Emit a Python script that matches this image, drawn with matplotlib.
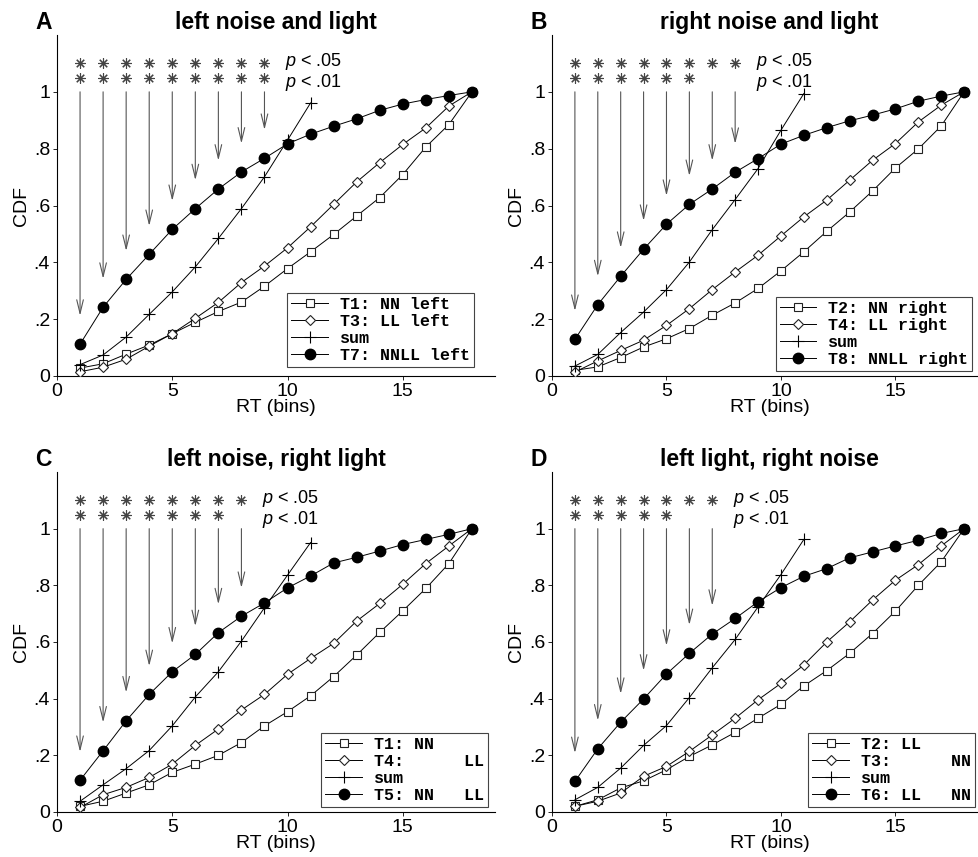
import matplotlib
matplotlib.use("Agg")
import matplotlib.pyplot as plt
import numpy as np

plt.rcParams['font.family'] = ['Liberation Sans', 'DejaVu Sans']
plt.rcParams['mathtext.fontset'] = 'custom'
plt.rcParams['mathtext.it'] = 'Liberation Sans:italic'
plt.rcParams['mathtext.rm'] = 'Liberation Sans'

bins = np.arange(1, 19)
sum_bins = np.arange(1, 12)

# Panel A: left noise and light
A_t1 = [0.028, 0.043, 0.077, 0.109, 0.149, 0.189, 0.227, 0.26, 0.316, 0.378, 0.437, 0.498, 0.563, 0.628, 0.709, 0.806, 0.885, 1.0]
A_t3 = [0.015, 0.031, 0.059, 0.105, 0.149, 0.203, 0.259, 0.329, 0.387, 0.451, 0.525, 0.604, 0.683, 0.751, 0.815, 0.873, 0.95, 1.0]
A_sum = [0.040, 0.074, 0.137, 0.217, 0.296, 0.384, 0.484, 0.589, 0.701, 0.83, 0.961]
A_comb = [0.112, 0.242, 0.340, 0.428, 0.516, 0.589, 0.658, 0.718, 0.766, 0.817, 0.851, 0.879, 0.905, 0.935, 0.957, 0.973, 0.987, 1.0]

# Panel B: right noise and light
B_t2 = [0.02, 0.032, 0.065, 0.102, 0.131, 0.167, 0.214, 0.257, 0.308, 0.37, 0.437, 0.509, 0.577, 0.651, 0.732, 0.799, 0.88, 1.0]
B_t4 = [0.014, 0.053, 0.09, 0.126, 0.178, 0.237, 0.304, 0.366, 0.425, 0.493, 0.56, 0.619, 0.689, 0.759, 0.818, 0.894, 0.953, 1.0]
B_sum = [0.035, 0.076, 0.153, 0.225, 0.304, 0.401, 0.515, 0.621, 0.73, 0.865, 0.994]
B_comb = [0.129, 0.251, 0.351, 0.446, 0.534, 0.604, 0.658, 0.717, 0.765, 0.816, 0.847, 0.874, 0.898, 0.918, 0.940, 0.967, 0.985, 1.0]

# Panel C: left noise, right light
C_t1 = [0.02, 0.038, 0.067, 0.096, 0.14, 0.169, 0.2, 0.245, 0.304, 0.354, 0.41, 0.478, 0.554, 0.634, 0.71, 0.789, 0.877, 1.0]
C_t4 = [0.016, 0.061, 0.087, 0.122, 0.169, 0.235, 0.293, 0.36, 0.415, 0.486, 0.542, 0.595, 0.674, 0.736, 0.804, 0.877, 0.939, 1.0]
C_sum = [0.038, 0.096, 0.153, 0.217, 0.304, 0.406, 0.495, 0.603, 0.721, 0.836, 0.951]
C_comb = [0.112, 0.216, 0.322, 0.415, 0.495, 0.556, 0.633, 0.691, 0.738, 0.791, 0.833, 0.879, 0.899, 0.921, 0.944, 0.962, 0.98, 1.0]

# Panel D: left light, right noise
D_t2 = [0.02, 0.043, 0.085, 0.11, 0.149, 0.196, 0.237, 0.281, 0.331, 0.38, 0.445, 0.499, 0.56, 0.63, 0.709, 0.8, 0.883, 1.0]
D_t3 = [0.02, 0.038, 0.067, 0.126, 0.161, 0.214, 0.272, 0.331, 0.396, 0.454, 0.519, 0.6, 0.671, 0.748, 0.818, 0.873, 0.939, 1.0]
D_sum = [0.043, 0.087, 0.155, 0.235, 0.305, 0.404, 0.509, 0.609, 0.724, 0.838, 0.962]
D_comb = [0.108, 0.223, 0.317, 0.399, 0.487, 0.56, 0.628, 0.683, 0.742, 0.792, 0.832, 0.859, 0.897, 0.918, 0.939, 0.959, 0.983, 1.0]

titles = ['left noise and light', 'right noise and light', 'left noise, right light', 'left light, right noise']
letters = ['A', 'B', 'C', 'D']
labels = [
    ['T1: NN left', 'T3: LL left', 'sum', 'T7: NNLL left'],
    ['T2: NN right', 'T4: LL right', 'sum', 'T8: NNLL right'],
    ['T1: NN', 'T4:      LL', 'sum', 'T5: NN   LL'],
    ['T2: LL', 'T3:      NN', 'sum', 'T6: LL   NN'],
]
# number of significant bins (p<.05, p<.01)
n_sig05 = [9, 8, 8, 7]
n_sig01 = [9, 6, 7, 5]

data = [(A_t1, A_t3, A_sum, A_comb), (B_t2, B_t4, B_sum, B_comb),
        (C_t1, C_t4, C_sum, C_comb), (D_t2, D_t3, D_sum, D_comb)]

W, H = 979, 857
fig = plt.figure(figsize=(W / 100, H / 100), dpi=100)

# axes rects in pixels: left, bottom(from top), width, height
rects = [(57, 376, 438, 341), (552, 376, 435, 341), (57, 812, 438, 340), (552, 812, 435, 340)]
leg_anchor = [(0.952, 0.026), (0.966, 0.015), (0.984, 0.015), (0.972, 0.015)]

for i in range(4):
    l, b, w, h = rects[i]
    ax = fig.add_axes([l / W, 1 - b / H, w / W, h / H])
    s1, s2, ssum, comb = data[i]
    lc = 'black'
    ax.plot(bins, s1, '-', color=lc, lw=0.7, marker='s', ms=5.5, mfc='white', mec='#222', mew=0.8, label=labels[i][0], zorder=3)
    ax.plot(bins, s2, '-', color=lc, lw=0.7, marker='D', ms=5.5, mfc='white', mec='#222', mew=0.8, label=labels[i][1], zorder=3)
    ax.plot(sum_bins, ssum, '-', color=lc, lw=0.7, marker='+', ms=9, mec='black', mew=0.8, label=labels[i][2], zorder=3)
    ax.plot(bins, comb, '-', color=lc, lw=0.7, marker='o', ms=7.5, mfc='black', mec='black', label=labels[i][3], zorder=4)

    # significance asterisks
    x05 = bins[:n_sig05[i]]
    x01 = bins[:n_sig01[i]]
    ax.plot(x05, np.full(len(x05), 1.10), linestyle='none', marker=(8, 2, 0), ms=7.5, mec='#444', mew=0.8, clip_on=False)
    ax.plot(x01, np.full(len(x01), 1.05), linestyle='none', marker=(8, 2, 0), ms=7.5, mec='#444', mew=0.8, clip_on=False)
    tx = n_sig05[i] + 0.9
    ax.text(tx, 1.107, r'$p$ < .05', fontsize=13, ha='left', va='center')
    ax.text(tx, 1.033, r'$p$ < .01', fontsize=13, ha='left', va='center')

    # arrows
    for k in range(n_sig05[i]):
        ax.annotate('', xy=(bins[k], comb[k] + 0.1), xytext=(bins[k], 1.0),
                    arrowprops=dict(arrowstyle='->,head_length=0.7,head_width=0.17', color='#555', lw=0.8,
                                    mutation_scale=14, shrinkA=0, shrinkB=0))

    ax.set_xlim(0, 19)
    ax.set_ylim(0, 1.2)
    ax.set_xticks([0, 5, 10, 15])
    ax.set_yticks([0, 0.2, 0.4, 0.6, 0.8, 1.0])
    ax.set_yticklabels(['0', '.2', '.4', '.6', '.8', '1'])
    ax.tick_params(labelsize=14, direction='out', length=3, width=0.6, pad=2)
    for sp in ['top', 'right']:
        ax.spines[sp].set_visible(False)
    for sp in ['left', 'bottom']:
        ax.spines[sp].set_linewidth(0.8)
    ax.set_xlabel('RT (bins)', fontsize=14, labelpad=-1)
    ax.set_ylabel('CDF', fontsize=14, labelpad=3)
    ax.set_title(titles[i], fontsize=16.5, fontweight='bold', pad=4.5)
    ax.annotate(letters[i], xy=(-0.049, 1.0), xycoords='axes fraction', xytext=(0, 4.5),
                textcoords='offset points', fontsize=16.5, fontweight='bold', ha='left', va='baseline')

    leg = ax.legend(loc='lower right', bbox_to_anchor=leg_anchor[i],
                    prop=dict(family='Liberation Mono', weight='bold', size=12),
                    frameon=True, fancybox=False, framealpha=1, edgecolor='#444',
                    borderpad=0.25, labelspacing=0.12, handlelength=2.2, handletextpad=0.7,
                    borderaxespad=0.0)
    leg.get_frame().set_linewidth(0.8)

fig.savefig('out.png', dpi=100)
